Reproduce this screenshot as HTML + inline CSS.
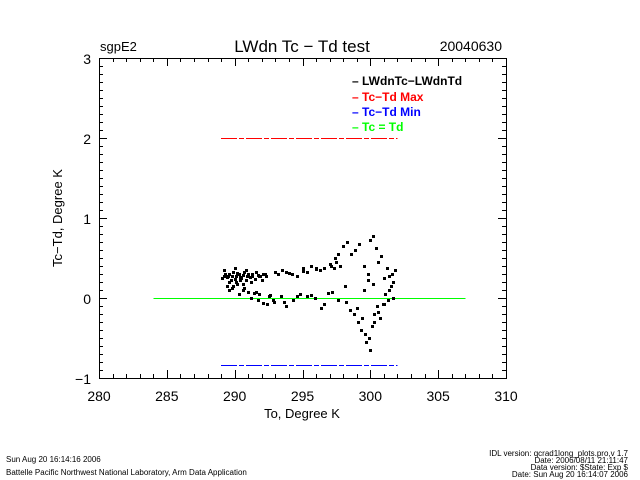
<!DOCTYPE html>
<html><head><meta charset="utf-8"><style>
body{margin:0;background:#fff;width:640px;height:480px;overflow:hidden}
svg{display:block;font-family:"Liberation Sans",sans-serif}
</style></head><body>
<svg id="chart" width="640" height="480" shape-rendering="crispEdges">
<text x="100" y="51" font-size="13">sgpE2</text>
<text x="302" y="52" font-size="17" text-anchor="middle">LWdn Tc − Td test</text>
<text x="502" y="51" font-size="14" text-anchor="end">20040630</text>
<g id="axes"></g>
<g id="marks"></g>
<g font-size="12" font-weight="bold">
<text x="352" y="85" fill="#000">–  LWdnTc−LWdnTd</text>
<text x="352" y="101" fill="#f00">–  Tc−Td Max</text>
<text x="352" y="116" fill="#00f">–  Tc−Td Min</text>
<text x="352" y="131" fill="#0f0">–  Tc = Td</text>
</g>
<text x="302" y="418" font-size="13" text-anchor="middle">To, Degree K</text>
<text transform="translate(62,218) rotate(-90)" font-size="13" text-anchor="middle">Tc−Td, Degree K</text>
<text x="6" y="462" font-size="8">Sun Aug 20 16:14:16 2006</text>
<text x="6" y="475" font-size="8">Battelle Pacific Northwest National Laboratory, Arm Data Application</text>
<g font-size="8" text-anchor="end">
<text x="628" y="456">IDL version: qcrad1long_plots.pro,v 1.7</text>
<text x="628" y="463">Date: 2006/08/11 21:11:47</text>
<text x="628" y="470">Data version: $State: Exp $</text>
<text x="628" y="477">Date: Sun Aug 20 16:14:07 2006</text>
</g>
</svg>
<script>
const xTicks=[280,285,290,295,300,305,310];
const yTicks=[-1,0,1,2,3];
const maxLine=[289,302,2.0];
const minLine=[289,302,-0.84];
const zeroLine=[284,307,0];
const ptX=[289.1,289.3,289.5,289.7,289.9,290.1,290.3,290.5,290.7,290.9,291.1,291.3,291.5,291.7,291.9,292.1,292.3,289.2,289.6,290.0,290.4,290.8,291.2,291.6,292.0,289.4,289.8,290.2,290.6,291.0,291.4,291.8,292.5,292.8,293.2,293.5,293.8,294.2,294.6,295.0,295.3,295.6,296.0,296.3,296.6,297.0,297.3,297.5,297.4,297.6,289.6,289.9,290.3,290.7,291.2,291.7,292.1,292.4,292.9,293.4,293.8,294.3,294.8,295.3,295.9,296.4,296.9,297.2,297.6,290.1,290.6,291.6,292.6,293.6,294.6,295.6,296.6,298.0,298.3,298.6,298.9,299.2,299.5,299.8,300.0,300.2,300.4,300.6,300.8,301.0,301.2,301.4,301.6,301.8,298.2,298.5,298.8,299.1,299.4,299.6,299.9,300.1,300.3,300.5,300.7,300.9,301.1,301.3,301.5,301.7,299.0,299.3,299.7,300.0,300.3,300.6,301.0,299.5,299.8,300.2,301.4,301.7,297.8,298.1,289.2,289.4,289.6,289.8,290.0,290.2,290.4,290.6,290.8,291.0,291.3,291.8,292.2,293.0,294.0,295.0,296.0,297.1];
const ptY=[0.25,0.3,0.28,0.22,0.32,0.27,0.3,0.25,0.33,0.28,0.26,0.3,0.24,0.29,0.27,0.3,0.28,0.35,0.2,0.38,0.22,0.35,0.2,0.33,0.22,0.15,0.12,0.18,0.1,0.08,0.06,0.05,0.02,-0.03,0.3,0.35,0.32,0.3,0.28,0.38,0.33,0.4,0.36,0.35,0.38,0.42,0.37,0.45,0.5,0.55,0.1,0.15,0.05,0.12,0.0,-0.02,-0.06,-0.08,-0.05,0.02,-0.1,-0.03,0.05,0.03,0.0,-0.12,0.06,0.08,-0.02,0.2,0.18,0.08,0.04,-0.05,0.02,0.04,-0.08,0.65,0.7,0.55,0.6,0.68,0.4,0.3,0.72,0.78,0.62,0.45,0.52,0.25,0.38,0.1,0.3,0.35,-0.05,-0.15,-0.2,-0.3,-0.25,-0.45,-0.5,-0.35,-0.2,-0.1,-0.25,-0.08,0.05,-0.02,0.15,0.0,-0.12,-0.4,-0.55,-0.65,-0.3,-0.18,-0.08,0.1,0.22,0.18,0.28,0.2,0.4,0.15,0.28,0.26,0.3,0.27,0.24,0.31,0.26,0.29,0.23,0.3,0.28,0.27,0.3,0.33,0.31,0.34,0.37,0.4];
const NS="http://www.w3.org/2000/svg";
const X0=99,X1=506,Y0=58,Y1=378;
function sx(v){return X0+(v-280)/30*(X1-X0);}
function sy(v){return Y1-(v+1)/4*(Y1-Y0);}
function mk(t,a,p){const e=document.createElementNS(NS,t);for(const k in a)e.setAttribute(k,a[k]);p.appendChild(e);return e;}
const ax=document.getElementById('axes'),mg=document.getElementById('marks');
const fr=mk('rect',{x:X0+0.5,y:Y0+0.5,width:X1-X0,height:Y1-Y0,fill:'none',stroke:'#000','stroke-width':1},ax);


for(let v=280;v<=310;v++){const p=Math.round(sx(v))+0.5,L=(v%5===0)?8:4;
 mk('line',{x1:p,x2:p,y1:Y1,y2:Y1-L,stroke:'#000'},ax);mk('line',{x1:p,x2:p,y1:Y0,y2:Y0+L,stroke:'#000'},ax);}
for(let i=-10;i<=30;i++){const v=i/10,p=Math.round(sy(v))+0.5,L=(i%10===0)?8:4;
 mk('line',{x1:X0,x2:X0+L,y1:p,y2:p,stroke:'#000'},ax);mk('line',{x1:X1,x2:X1-L,y1:p,y2:p,stroke:'#000'},ax);}
xTicks.forEach(v=>{const t=mk('text',{x:sx(v),y:Y1+23,'font-size':14,'text-anchor':'middle'},ax);t.textContent=v;
 
 });
yTicks.forEach(v=>{const t=mk('text',{x:X0-8,y:sy(v)+6,'font-size':14,'text-anchor':'end'},ax);t.textContent=v<0?'−'+(-v):v;
 
 });
function hl(d,c,dash,name){const y=Math.round(sy(d[2]))+0.5;const l=mk('line',{x1:sx(d[0]),x2:sx(d[1]),y1:y,y2:y,stroke:c,'stroke-width':1,'stroke-dasharray':dash},mg);
 
 }
hl(zeroLine,'#0f0','none','zero-line');
hl(maxLine,'#f00','16 2 5 2','max-line');
hl(minLine,'#00f','16 2 5 2','min-line');
for(let i=0;i<ptX.length;i++){const r=mk('rect',{x:Math.round(sx(ptX[i]))-1,y:Math.round(sy(ptY[i]))-1,width:3,height:3,fill:'#000'},mg);
 
 }
</script>
</body></html>
